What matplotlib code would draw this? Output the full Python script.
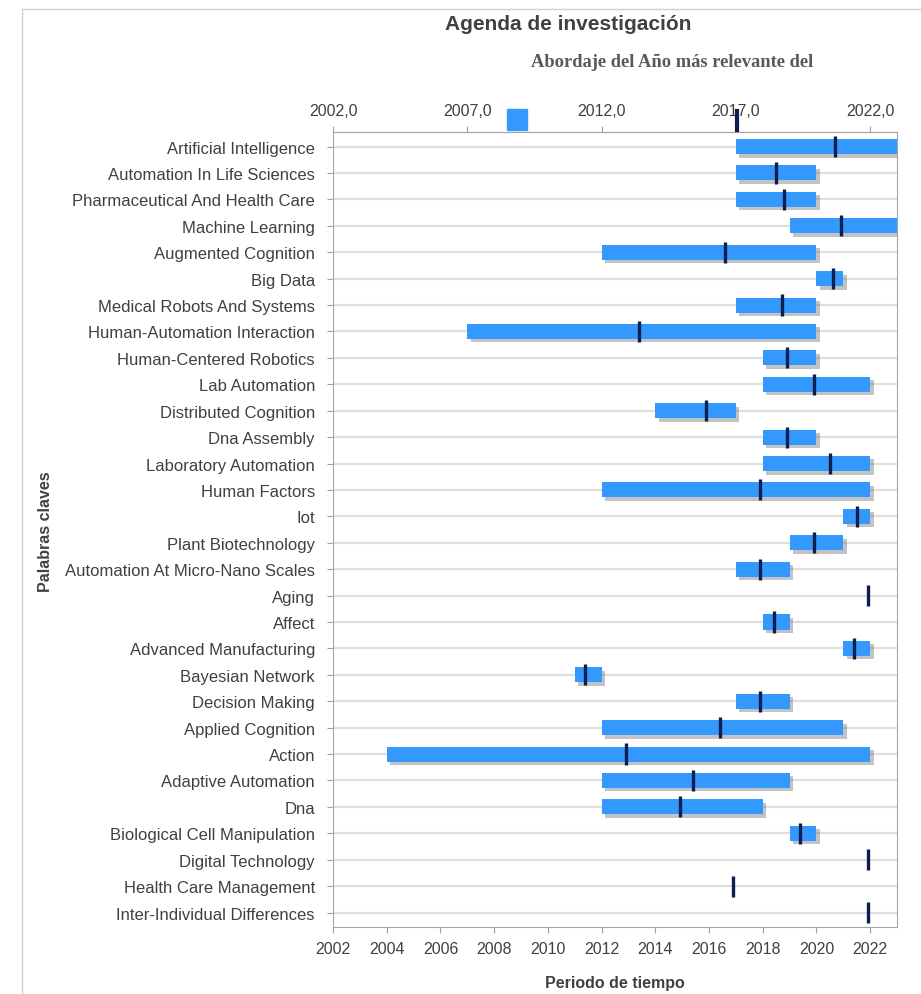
import matplotlib
matplotlib.use("Agg")
import matplotlib.pyplot as plt
import matplotlib.patheffects as pe
from matplotlib.patches import Rectangle
from matplotlib.lines import Line2D
from matplotlib.ticker import FuncFormatter

plt.rcParams['font.family'] = ['Liberation Sans', 'DejaVu Sans']

keywords = [
    "Artificial Intelligence", "Automation In Life Sciences", "Pharmaceutical And Health Care",
    "Machine Learning", "Augmented Cognition", "Big Data", "Medical Robots And Systems",
    "Human-Automation Interaction", "Human-Centered Robotics", "Lab Automation",
    "Distributed Cognition", "Dna Assembly", "Laboratory Automation", "Human Factors", "Iot",
    "Plant Biotechnology", "Automation At Micro-Nano Scales", "Aging", "Affect",
    "Advanced Manufacturing", "Bayesian Network", "Decision Making", "Applied Cognition",
    "Action", "Adaptive Automation", "Dna", "Biological Cell Manipulation",
    "Digital Technology", "Health Care Management", "Inter-Individual Differences",
]
start_year = [2017, 2017, 2017, 2019, 2012, 2020, 2017, 2007, 2018, 2018,
              2014, 2018, 2018, 2012, 2021, 2019, 2017, 2022, 2018, 2021,
              2011, 2017, 2012, 2004, 2012, 2012, 2019, 2022, 2017, 2022]
end_year = [2023, 2020, 2020, 2023, 2020, 2021, 2020, 2020, 2020, 2022,
            2017, 2020, 2022, 2022, 2022, 2021, 2019, 2022, 2019, 2022,
            2012, 2019, 2021, 2022, 2019, 2018, 2020, 2022, 2017, 2022]
peak_year = [2020.7, 2018.5, 2018.8, 2020.9, 2016.6, 2020.6, 2018.7, 2013.4, 2018.9, 2019.9,
             2015.9, 2018.9, 2020.5, 2017.9, 2021.5, 2019.9, 2017.9, 2021.9, 2018.4, 2021.4,
             2011.4, 2017.9, 2016.4, 2012.9, 2015.4, 2014.9, 2019.4, 2021.9, 2016.9, 2021.9]

bottom_ticks = list(range(2002, 2023, 2))
top_ticks = [2002, 2007, 2012, 2017, 2022]

bar_color = '#3399ff'
peak_color = '#0b1f4f'
text_color = '#404040'

fig = plt.figure(figsize=(9.21, 9.95), dpi=100)
ax = fig.add_axes([0.3616, 0.0673, 0.6124, 0.799])

rows = list(range(len(keywords)))
widths = [e - s for s, e in zip(start_year, end_year)]
ax.barh(rows, widths, left=start_year, height=0.57, color=bar_color, zorder=3,
        path_effects=[pe.SimplePatchShadow(offset=(2.5, -2.5), shadow_rgbFace='#555555', alpha=0.35),
                      pe.Normal()])
ax.vlines(peak_year, [r - 0.4 for r in rows], [r + 0.4 for r in rows],
          color=peak_color, linewidth=2.4, zorder=4)

ax.set_xlim(2002, 2023)
ax.set_ylim(29.55, -0.55)
ax.set_yticks(rows)
ax.set_yticklabels(keywords, fontsize=12, color=text_color)
ax.set_xticks(bottom_ticks)
ax.tick_params(axis='x', labelsize=11.5, labelcolor=text_color, color='#a0a0a0', length=4, pad=6)
ax.tick_params(axis='y', color='#a0a0a0', length=4, pad=9)
for y in rows:
    ax.axhline(y, color='#dedede', linewidth=1.6, zorder=1)
for sp in ax.spines.values():
    sp.set_color('#a6a6a6')

top = ax.secondary_xaxis('top')
top.set_xticks(top_ticks)
top.xaxis.set_major_formatter(FuncFormatter(lambda v, p: f"{v:.1f}".replace('.', ',')))
top.tick_params(labelsize=11.5, labelcolor=text_color, color='#a0a0a0', length=4, pad=6)
top.spines['top'].set_color('#a6a6a6')

ax.set_xlabel("Periodo de tiempo", fontsize=11.5, fontweight='bold', color=text_color, labelpad=14)
fig.text(0.049, 0.466, "Palabras claves", rotation=90, fontsize=11.5, fontweight='bold',
         color=text_color, ha='center', va='center')

fig.text(0.617, 0.975, "Agenda de investigación", fontsize=15, fontweight='bold',
         color=text_color, ha='center', va='center')
fig.text(0.73, 0.937, "Abordaje del Año más relevante del", fontsize=13.3, fontweight='bold',
         family='Liberation Serif', color='#595959', ha='center', va='center')

# legend glyphs peeking above the top axis
fig.add_artist(Rectangle((0.550, 0.868), 0.022, 0.021, color=bar_color, transform=fig.transFigure))
fig.add_artist(Line2D([0.8, 0.8], [0.868, 0.887], color=peak_color, linewidth=3,
                      transform=fig.transFigure))

# outer chart frame
fig.add_artist(Line2D([0.024, 0.024], [0.0, 0.99], color='#d0d0d0', linewidth=1,
                      transform=fig.transFigure))
fig.add_artist(Line2D([0.024, 1.0], [0.99, 0.99], color='#d0d0d0', linewidth=1,
                      transform=fig.transFigure))

fig.savefig("out.png", dpi=100)
